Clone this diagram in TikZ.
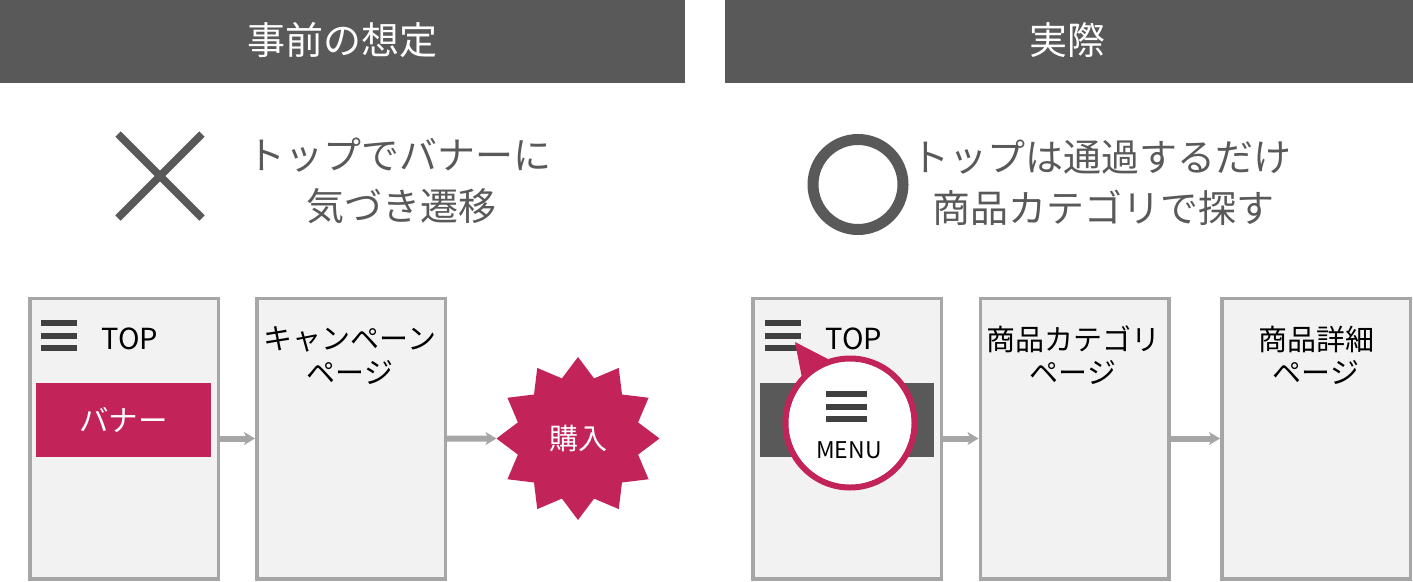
\documentclass[tikz,border=0pt]{standalone}
\usepackage{fontspec}
\setmainfont{Noto Sans CJK JP}
\usetikzlibrary{shapes.geometric,arrows.meta}
\definecolor{headgray}{HTML}{595959}
\definecolor{linegray}{HTML}{A6A6A6}
\definecolor{pagegray}{HTML}{F2F2F2}
\definecolor{bargray}{HTML}{404040}
\definecolor{crimson}{HTML}{C2245A}
\newcommand{\fsize}[1]{\fontsize{#1}{#1}\selectfont}
\begin{document}
\begin{tikzpicture}[x=1pt,y=-1pt,inner sep=0pt,outer sep=0pt]
    \tikzstyle{header}=[rectangle,fill=headgray,minimum height=83pt]
    \tikzstyle{head text}=[text=white,font=\fsize{38}]
    \tikzstyle{page}=[rectangle,draw=linegray,fill=pagegray,line width=3.5pt,outer sep=1.75pt,minimum width=188.5pt,minimum height=280.5pt]
    \tikzstyle{banner}=[rectangle,minimum height=74pt,text=white,font=\fsize{29.5}]
    \tikzstyle{bar}=[rectangle,fill=bargray,minimum height=6pt]
    \tikzstyle{label}=[text=black,font=\fsize{29}]
    \tikzstyle{note}=[text=headgray,font=\fsize{38}]
    \tikzstyle{flow}=[draw=linegray,line width=6pt,-{Stealth[length=11pt,width=13pt,inset=3pt]}]
    \useasboundingbox (0,0) rectangle (1413,581);
    % Headers
    \node[header,minimum width=685pt] (plan) at (342.5,41.5) {};
    \node[header,minimum width=688pt] (real) at (1069,41.5) {};
    \node[head text] (plan text) at (342,40) {事前の想定};
    \node[head text] (real text) at (1067,40) {実際};
    % Verdicts
    \draw[headgray,line width=7.5pt] (118,134) -- (202,218) (118,218) -- (202,134);
    \node[circle,draw=headgray,line width=11pt,minimum size=90pt] (good) at (858,184.5) {};
    \node[note] (plan note a) at (399,155) {トップでバナーに};
    \node[note] (plan note b) at (401,206) {気づき遷移};
    \node[note] (real note a) at (1101.5,157) {トップは通過するだけ};
    \node[note] (real note b) at (1103,208) {商品カテゴリで探す};
    % Left flow
    \node[page] (top a) at (124,438.5) {};
    \node[page] (campaign) at (351,438.5) {};
    \node[star,star points=12,star point ratio=1.31,fill=crimson,text=white,minimum size=163pt,font=\fsize{29}] (buy) at (578,438.5) {購入};
    \node[banner,fill=crimson,minimum width=175pt] (banner a) at (123.5,420) {バナー};
    \foreach \y in {323,336,348}
        \node[bar,minimum width=36pt] (bar a \y) at (59,\y) {};
    \node[label] (top a text) at (130,339) {TOP};
    \node[label] (campaign text) at (350,339) {キャンペーン};
    \node[label] (campaign page) at (350,372) {ページ};
    \path[flow] (top a) -- (campaign);
    \path[flow] (campaign) -- (buy);
    % Right flow
    \node[page] (top b) at (847,438.5) {};
    \node[page] (category) at (1074.5,438.5) {};
    \node[page] (detail) at (1316,438.5) {};
    \node[banner,fill=headgray,minimum width=174pt] (banner b) at (847,420) {};
    \foreach \y in {323,336,348}
        \node[bar,minimum width=36pt] (bar b \y) at (783,\y) {};
    \node[label] (top b text) at (854,339) {TOP};
    \node[label] (category text) at (1073,339) {商品カテゴリ};
    \node[label] (category page) at (1073,372) {ページ};
    \node[label] (detail text) at (1316,339) {商品詳細};
    \node[label] (detail page) at (1316,372) {ページ};
    \path[flow] (top b) -- (category);
    \path[flow] (category) -- (detail);
    % Menu balloon
    \coordinate (tip) at (795,342);
    \node[circle,draw=crimson,fill=white,line width=6pt,minimum size=129pt] (menu) at (850,423) {};
    \fill[crimson] (tip) -- (828,359) -- (802,378) -- cycle;
    \node[circle,fill=white,minimum size=122pt] (menu inner) at (850,423) {};
    \foreach \y in {394,407,419}
        \node[bar,minimum width=41pt] (bar m \y) at (846.5,\y) {};
    \node[text=black,font=\fsize{23}] (menu text) at (849,450) {MENU};
\end{tikzpicture}
\end{document}
